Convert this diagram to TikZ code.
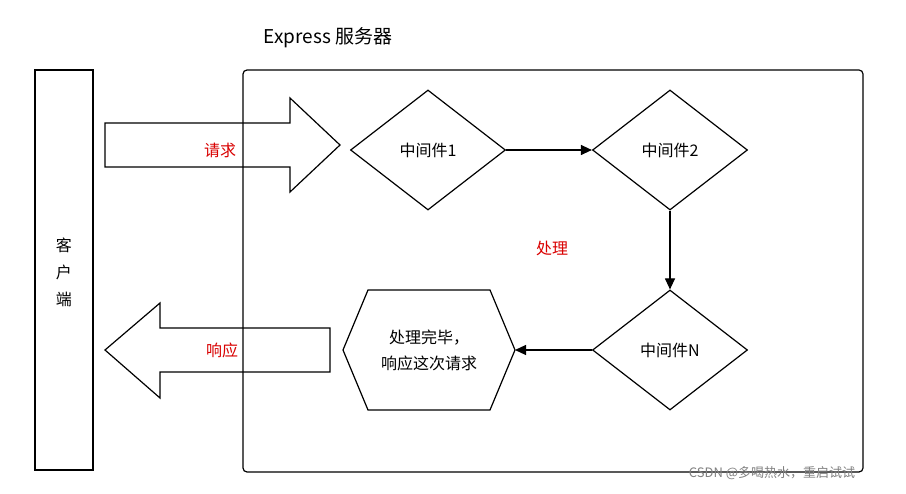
\documentclass[tikz,border=0pt]{standalone}
\usepackage{fontspec}
\setmainfont{Noto Sans CJK SC}
\usetikzlibrary{shapes.geometric,arrows.meta}
\tikzset{
    step box/.style={diamond, draw, line width=1.2pt, minimum width=155pt, minimum height=120pt, aspect=1.3, inner sep=0pt, font=\fontsize{16}{18}\selectfont},
    big arrow/.style={draw, line width=1.2pt, fill=white, line join=miter},
    red label/.style={text=red!85!black, font=\fontsize{16}{18}\selectfont},
    flow/.style={-{Triangle[length=11pt,width=10pt]}, line width=1.2pt}
}
\begin{document}
\begin{tikzpicture}[x=1pt,y=-1pt]
    \useasboundingbox (0,0) rectangle (906,494);
    % Title
    \node[font=\fontsize{19}{21}\selectfont] (title) at (328,38) {Express 服务器};
    % Client
    \draw[line width=1.2pt] (35,70) rectangle (93,470);
    \node[align=center, font=\fontsize{16}{27}\selectfont] (client) at (64,272) {客\\户\\端};
    % Request and response arrows
    \draw[big arrow] (105,123) -- (290,123) -- (290,98) -- (340,145) -- (290,192) -- (290,167) -- (105,167) -- cycle;
    \draw[big arrow] (330,328) -- (160,328) -- (160,303) -- (105,350) -- (160,398) -- (160,372) -- (330,372) -- cycle;
    \node[red label] (reqlabel) at (220,150) {请求};
    \node[red label] (resplabel) at (222,350) {响应};
    % Server
    \draw[line width=1.2pt, rounded corners=4pt] (243,70) rectangle (863,472);
    % Middleware
    \node[step box] (m1) at (428,150) {中间件1};
    \node[step box] (m2) at (670,150) {中间件2};
    \node[step box] (mn) at (670,350) {中间件N};
    \draw[line width=1.2pt] (343,350) -- (368,290) -- (490,290) -- (515,350) -- (490,410) -- (368,410) -- cycle;
    \coordinate (doneeast) at (515,350);
    \node[align=center, font=\fontsize{16}{26}\selectfont] (done) at (429,350) {处理完毕，\\响应这次请求};
    \node[red label] (proc) at (552,248) {处理};
    % Connectors
    \draw[flow] (m1.east) -- (m2.west);
    \draw[flow] (m2.south) -- (mn.north);
    \draw[flow] (mn.west) -- (doneeast);
    % Watermark
    \node[text=gray, font=\fontsize{13}{15}\selectfont] (mark) at (772,473) {CSDN @多喝热水，重启试试};
\end{tikzpicture}
\end{document}
